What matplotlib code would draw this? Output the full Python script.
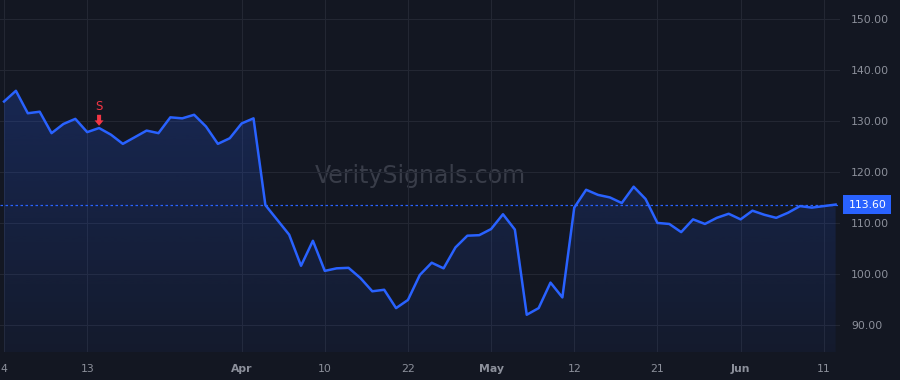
import numpy as np
import pandas as pd
import matplotlib
matplotlib.use("Agg")
import matplotlib.pyplot as plt
from matplotlib.patches import Polygon

# trading days Mar 4 - Jun 12 2025 (Good Friday, Memorial Day closed)
holidays = ["2025-04-18", "2025-05-26"]
dates = pd.bdate_range("2025-03-04", "2025-06-12")
dates = dates[~dates.isin(pd.to_datetime(holidays))]

prices = [133.8, 135.9, 131.5, 131.8, 127.6, 129.4, 130.4, 127.8, 128.6, 127.3,
          125.5, 126.8, 128.1, 127.6, 130.7, 130.5, 131.2, 128.9, 125.5, 126.6,
          129.5, 130.5, 113.5, 110.6, 107.7, 101.6, 106.5, 100.6, 101.1, 101.2,
          99.2, 96.6, 96.9, 93.3, 94.9, 99.8, 102.2, 101.1, 105.2, 107.5,
          107.6, 108.8, 111.7, 108.7, 92.0, 93.3, 98.3, 95.4, 113.0, 116.5,
          115.5, 115.0, 113.9, 117.1, 114.7, 110.0, 109.8, 108.2, 110.7, 109.8,
          111.0, 111.8, 110.7, 112.4, 111.6, 111.0, 112.0, 113.3, 113.0, 113.3,
          113.6]
last_price = 113.60

tick_dates = ["2025-03-04", "2025-03-13", "2025-04-01", "2025-04-10", "2025-04-22",
              "2025-05-01", "2025-05-12", "2025-05-21", "2025-06-02", "2025-06-11"]
tick_labels = ["4", "13", "Apr", "10", "22", "May", "12", "21", "Jun", "11"]
y_ticks = [90, 100, 110, 120, 130, 140, 150]

signal_date = "2025-03-14"
signal_label = "S"

bg = "#131722"
grid_c = "#232733"
line_c = "#2962ff"
text_c = "#8c909b"
sell_c = "#f23645"

x = np.arange(len(prices))
y = np.array(prices)

fig = plt.figure(figsize=(9, 3.8), dpi=100, facecolor=bg)
ax = fig.add_axes([0, 28 / 380, 840 / 900, 352 / 380])
ax.set_facecolor(bg)

ax.set_xlim(-0.34, 70.37)
ax.set_ylim(84.7, 153.7)

# gradient fill under the line
poly = ax.fill_between(x, y, 84.7, color="none")
grad = np.zeros((256, 1, 4))
grad[:, 0, :3] = matplotlib.colors.to_rgb(line_c)
grad[:, 0, 3] = np.linspace(0.05, 0.22, 256)
im = ax.imshow(grad, aspect="auto", origin="lower",
               extent=[x[0], x[-1], 84.7, y.max()], zorder=1)
im.set_clip_path(poly.get_paths()[0], transform=ax.transData)

ax.plot(x, y, color=line_c, lw=1.8, zorder=3, solid_joinstyle="round")
ax.axhline(last_price, color=line_c, lw=0.9, ls=(0, (2, 2)), zorder=2)

tick_pos = [list(dates).index(pd.Timestamp(d)) for d in tick_dates]
ax.set_xticks(tick_pos)
ax.set_xticklabels(tick_labels)
ax.set_yticks(y_ticks)
ax.set_yticklabels([f"{v:.2f}" for v in y_ticks])
ax.yaxis.tick_right()
ax.tick_params(axis="both", length=0, colors=text_c, labelsize=7.8)
ax.tick_params(axis="x", pad=9)
ax.tick_params(axis="y", pad=8)
for lbl in ax.get_xticklabels():
    if lbl.get_text() in ("Apr", "May", "Jun"):
        lbl.set_fontweight("bold")
ax.grid(True, color=grid_c, lw=0.8)
ax.set_axisbelow(True)
for s in ax.spines.values():
    s.set_visible(False)

# last price tag
ax.annotate(f"{last_price:.2f}", xy=(1.0, last_price),
            xycoords=("axes fraction", "data"), xytext=(6, 0),
            textcoords="offset points", va="center", ha="left",
            color="white", fontsize=7.8,
            bbox=dict(boxstyle="square,pad=0.45", fc=line_c, ec="none"),
            annotation_clip=False)

# sell signal: down arrow above the point
si = list(dates).index(pd.Timestamp(signal_date))
sy = y[si]
arrow = Polygon([(si - 0.17, sy + 2.6), (si + 0.17, sy + 2.6), (si + 0.17, sy + 1.5),
                 (si + 0.38, sy + 1.5), (si, sy + 0.45), (si - 0.38, sy + 1.5),
                 (si - 0.17, sy + 1.5)], closed=True, fc=sell_c, ec="none", zorder=4)
ax.add_patch(arrow)
ax.text(si, sy + 4.3, signal_label, color=sell_c, fontsize=8.5,
        ha="center", va="center", zorder=4)

# watermark
ax.text(0.5, 0.5, "VeritySignals.com", transform=ax.transAxes,
        ha="center", va="center", fontsize=17, color="#393d49", zorder=0)

fig.savefig("out.png", dpi=100, facecolor=bg)
